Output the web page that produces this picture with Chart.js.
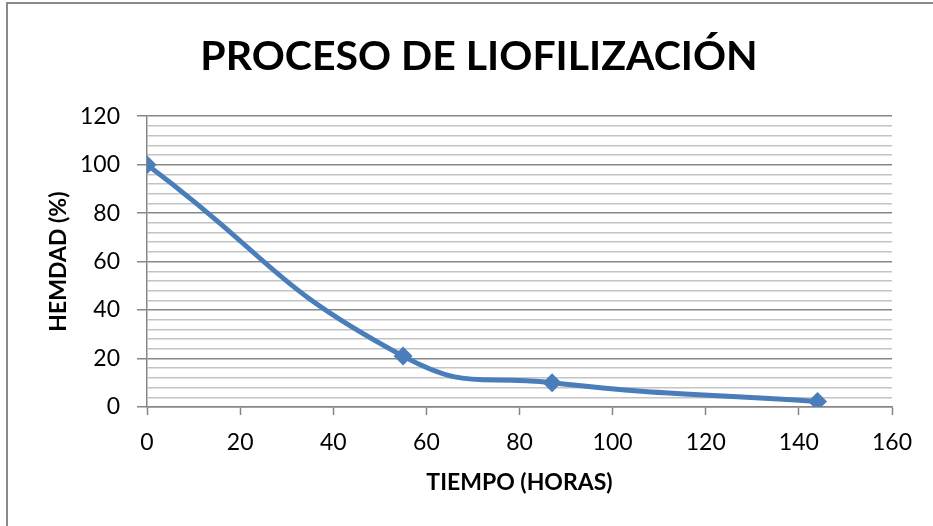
<!DOCTYPE html>
<html>
<head>
<meta charset="utf-8">
<script src="https://cdn.jsdelivr.net/npm/chart.js@4.4.1/dist/chart.umd.min.js"></script>
<style>
  html, body { margin: 0; padding: 0; background: #ffffff; }
  #wrap { position: relative; width: 933px; height: 526px; overflow: hidden; }
  #frame { position: absolute; left: 6px; top: 2px; width: 1000px; height: 600px;
           border-left: 2px solid #8a8a8a; border-top: 2px solid #8a8a8a; }
  canvas { position: absolute; left: 0; top: 0; }
</style>
</head>
<body>
<div id="wrap">
  <div id="frame"></div>
  <canvas id="c" width="933" height="526"></canvas>
</div>
<script>
// Freeze-drying run: moisture content over time
const horas = [0, 55, 87, 144];
const humedad = [100, 21, 10, 2.3];
const xTicks = [0, 20, 40, 60, 80, 100, 120, 140, 160];
const yTicks = [0, 20, 40, 60, 80, 100, 120];
const yMinorStep = 4;

const chartTitle = 'PROCESO DE LIOFILIZACIÓN';
const xTitle = 'TIEMPO (HORAS)';
const yTitle = 'HEMDAD (%)';

const FONT = 'Lato, "Open Sans", sans-serif';
const MAJOR = '#878787';
const MINOR = '#c4c4c4';

// Centre the chart title over the band right of the y-axis title
const titleShift = {
  id: 'titleShift',
  afterLayout(chart) {
    if (chart.titleBlock) chart.titleBlock.left = 66;
  }
};

new Chart(document.getElementById('c'), {
  type: 'scatter',
  data: {
    datasets: [{
      data: horas.map((h, i) => ({ x: h, y: humedad[i] })),
      showLine: true,
      borderColor: '#4a7ebb',
      backgroundColor: '#4a7ebb',
      borderWidth: 5,
      tension: 0.5,
      pointStyle: 'rectRot',
      pointRadius: 9.5,
      pointHoverRadius: 9.5,
      pointBorderWidth: 0
    }]
  },
  plugins: [titleShift],
  options: {
    responsive: false,
    animation: false,
    events: [],
    layout: { padding: { left: 0, right: 41, top: 0, bottom: 0 } },
    plugins: {
      legend: { display: false },
      tooltip: { enabled: false },
      title: {
        display: true,
        text: chartTitle,
        color: '#000000',
        font: { family: FONT, size: 41, weight: 'bold', lineHeight: 1.2 },
        padding: { top: 32, bottom: 35 }
      }
    },
    scales: {
      x: {
        type: 'linear',
        min: 0, max: 160,
        afterBuildTicks: s => { s.ticks = xTicks.map(v => ({ value: v })); },
        afterFit: s => { s.height = 119; },
        border: { display: true, color: MAJOR, width: 1.5 },
        grid: { drawOnChartArea: false, drawTicks: true, tickLength: 8, tickColor: MAJOR, tickWidth: 1.5 },
        ticks: { color: '#000000', font: { family: FONT, size: 23 }, padding: 14, maxRotation: 0, autoSkip: false },
        title: {
          display: true, text: xTitle, color: '#000000',
          font: { family: FONT, size: 23, weight: 'bold', lineHeight: 1.2 },
          padding: { top: 0, bottom: 30 }
        }
      },
      y: {
        type: 'linear',
        min: 0, max: 120,
        afterBuildTicks: s => {
          const t = [];
          for (let v = 0; v <= 120; v += yMinorStep) t.push({ value: v });
          s.ticks = t;
        },
        ticks: {
          autoSkip: false,
          color: '#000000',
          font: { family: FONT, size: 23 },
          padding: 17,
          callback: v => (yTicks.includes(v) ? String(v) : '')
        },
        afterFit: s => { s.width = 147; },
        border: { display: true, color: MAJOR, width: 1.5 },
        grid: {
          drawTicks: true,
          tickLength: 10,
          color: c => (c.tick && c.tick.value % 20 === 0 ? MAJOR : MINOR),
          tickColor: c => (c.tick && c.tick.value % 20 === 0 ? MAJOR : 'rgba(0,0,0,0)'),
          lineWidth: 1.5
        },
        title: {
          display: true, text: yTitle, color: '#000000',
          font: { family: FONT, size: 23, weight: 'bold', lineHeight: 1.2 },
          padding: { top: 45, bottom: 0 }
        }
      }
    }
  }
});
</script>
</body>
</html>
